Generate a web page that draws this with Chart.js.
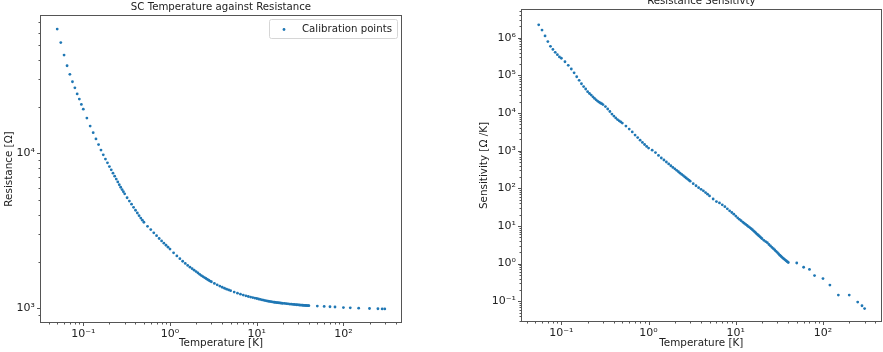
<!DOCTYPE html>
<html>
<head>
<meta charset="utf-8">
<script src="https://cdn.jsdelivr.net/npm/chart.js@4.4.1/dist/chart.umd.min.js"></script>
<style>
    html, body { margin: 0; padding: 0; background: #fff; overflow: hidden; }
    #wrap { position: relative; width: 883px; height: 352px; overflow: hidden; }
    #left { position: absolute; left: 0; top: 0; }
    #right { position: absolute; left: 441px; top: -6px; }
</style>
</head>
<body>
<div id="wrap">
    <canvas id="left" width="441" height="352"></canvas>
    <canvas id="right" width="442" height="358"></canvas>
</div>
<script>
// calibration table (K, ohm)
const tempK = [
    0.05, 0.055, 0.06, 0.065, 0.07, 0.075, 0.08, 0.085, 0.09, 0.095, 0.1,
    0.11, 0.12, 0.13, 0.14, 0.15, 0.16, 0.17, 0.18, 0.19, 0.2,
    0.21, 0.22, 0.23, 0.24, 0.25, 0.26, 0.27, 0.28, 0.29, 0.3,
    0.32, 0.34, 0.36, 0.38, 0.4, 0.42, 0.44, 0.46, 0.48, 0.5,
    0.55, 0.6, 0.65, 0.7, 0.75, 0.8, 0.85, 0.9, 0.95, 1.0,
    1.1, 1.2, 1.3, 1.4, 1.5, 1.6, 1.7, 1.8, 1.9, 2.0,
    2.1, 2.2, 2.3, 2.4, 2.5, 2.6, 2.7, 2.8, 2.9, 3.0,
    3.25, 3.5, 3.75, 4.0, 4.25, 4.5, 4.75, 5.0,
    5.5, 6.0, 6.5, 7.0, 7.5, 8.0,
    8.5, 9, 9.5, 10, 10.5, 11, 11.5, 12, 12.5, 13, 13.5, 14,
    14.5, 15, 15.5, 16, 16.5, 17, 17.5, 18, 18.5, 19, 19.5, 20,
    21, 22, 23, 24, 25, 26, 27, 28, 29, 30,
    31, 32, 33, 34, 35, 36, 37, 38, 39, 40,
    50, 60, 70, 80, 100, 120, 150, 200, 250, 280, 300
];

const resistance = [
    63500, 51900, 43100, 36800, 32400, 29000, 26500, 24200, 22400, 20700, 19300,
    16900, 15000, 13600, 12400, 11400, 10500, 9780, 9180, 8690, 8220,
    7830, 7450, 7120, 6820, 6540, 6270, 6040, 5840, 5660, 5480,
    5170, 4920, 4700, 4480, 4290, 4120, 3960, 3820, 3700, 3590,
    3380, 3220, 3070, 2940, 2820, 2720, 2630, 2550, 2480, 2410,
    2280, 2175, 2090, 2010, 1945, 1890, 1840, 1800, 1760, 1725,
    1690, 1655, 1625, 1600, 1578, 1555, 1535, 1515, 1497, 1482,
    1446, 1416, 1390, 1366, 1346, 1328, 1312, 1297,
    1272, 1250, 1232, 1216, 1202, 1190,
    1180, 1172, 1163, 1155, 1147, 1140, 1133, 1127, 1121, 1116, 1111, 1107,
    1103, 1099, 1096, 1093, 1090, 1088, 1086, 1084, 1082, 1080, 1078, 1076,
    1073, 1070, 1067, 1064, 1062, 1059, 1057, 1055, 1053, 1051,
    1049, 1048, 1046, 1045, 1043, 1042, 1041, 1040, 1039, 1038,
    1033, 1027, 1022, 1018, 1010, 1006, 1001, 996, 992, 990, 989
];

// |dR/dT| in ohm/K, one per temperature starting at tempK[1]
const sensitivity = [
    2.2e6, 1.6e6, 1.12e6, 7.9e5, 5.9e5, 4.9e5, 4.1e5, 3.55e5, 3.1e5, 2.85e5,
    2.3e5, 1.85e5, 1.48e5, 1.17e5, 9.2e4, 7.4e4, 6.0e4, 5.05e4, 4.35e4, 3.7e4,
    3.3e4, 3.0e4, 2.7e4, 2.45e4, 2.25e4, 2.08e4, 1.95e4, 1.85e4, 1.77e4, 1.68e4,
    1.48e4, 1.28e4, 1.1e4, 9400, 8300, 7400, 6700, 6200, 5800, 5400,
    4500, 3750, 3150, 2600, 2230, 1900, 1660, 1460, 1300, 1170,
    1030, 890, 750, 640, 565, 500, 445, 398, 360, 330,
    300, 276, 253, 234, 218, 201, 188, 176, 166, 155,
    133, 117, 104, 94, 86, 77, 70, 63,
    52, 44.5, 41, 36.5, 32.5, 28.5,
    25.2, 22.8, 20.6, 18.3, 16.5, 15.0, 13.8, 12.7, 11.8, 11.0, 10.3, 9.6,
    9.06, 8.5, 7.95, 7.45, 6.95, 6.5, 6.1, 5.75, 5.45, 5.15, 4.85, 4.6,
    4.15, 3.85, 3.6, 3.22, 2.95, 2.7, 2.5, 2.3, 2.12, 1.96,
    1.81, 1.68, 1.57, 1.47, 1.38, 1.31, 1.24, 1.18, 1.12, 1.07,
    1.04, 0.80, 0.70, 0.48, 0.40, 0.27, 0.146, 0.146, 0.095, 0.076, 0.064
];

const tempTicks = [0.1, 1, 10, 100];
const tempTickLabels = ['10\u207B\u00B9', '10\u2070', '10\u00B9', '10\u00B2'];
const resTicks = [1000, 10000];
const resTickLabels = ['10\u00B3', '10\u2074'];
const sensTicks = [0.1, 1, 10, 100, 1000, 1e4, 1e5, 1e6];
const sensTickLabels = ['10\u207B\u00B9', '10\u2070', '10\u00B9', '10\u00B2', '10\u00B3', '10\u2074', '10\u2075', '10\u2076'];

Chart.defaults.font.family = "'DejaVu Sans', sans-serif";
Chart.defaults.color = '#222';

var blue = '#1f77b4';
var spine = '#555';

function logTicks(min, max) {
    var out = [];
    for (var d = Math.floor(Math.log10(min)); d <= Math.ceil(Math.log10(max)); d++) {
        for (var m = 1; m <= 9; m++) {
            var v = m * Math.pow(10, d);
            if (v >= min && v <= max) out.push({ value: v, major: m == 1 });
        }
    }
    return out;
}

function labelFor(values, labels) {
    return function (v) {
        for (var i = 0; i < values.length; i++) {
            if (Math.abs(v / values[i] - 1) < 1e-9) return labels[i];
        }
        return '';
    };
}

function logAxis(min, max, values, labels, title, fit, titlePad) {
    return {
        type: 'logarithmic',
        min: min,
        max: max,
        afterBuildTicks: function (scale) { scale.ticks = logTicks(min, max); },
        afterFit: fit,
        ticks: {
            autoSkip: false, maxRotation: 0, minRotation: 0, padding: 1,
            font: { size: 11 }, color: '#222',
            callback: labelFor(values, labels)
        },
        grid: { display: true, drawOnChartArea: false, drawTicks: true, tickLength: 4, tickColor: 'rgba(0,0,0,0)' },
        border: { display: false },
        title: { display: true, text: title, color: '#222', font: { size: 10.4 }, padding: titlePad }
    };
}

// box round the plot and matplotlib style major/minor tick marks
const frame = {
    id: 'frame',
    afterDraw: function (chart) {
        var ctx = chart.ctx, a = chart.chartArea;
        var l = Math.round(a.left) + 0.5, r = Math.round(a.right) - 0.5;
        var t = Math.round(a.top) + 0.5, b = Math.round(a.bottom) - 0.5;
        ctx.save();
        ctx.strokeStyle = spine;
        ctx.lineWidth = 1;
        ctx.strokeRect(l, t, r - l, b - t);
        var xs = chart.scales.x, ys = chart.scales.y;
        ctx.beginPath();
        xs.ticks.forEach(function (tk) {
            var p = Math.round(xs.getPixelForValue(tk.value)) + 0.5;
            ctx.moveTo(p, b);
            ctx.lineTo(p, b + (tk.major ? 3.5 : 2));
        });
        ys.ticks.forEach(function (tk) {
            var p = Math.round(ys.getPixelForValue(tk.value)) + 0.5;
            ctx.moveTo(l, p);
            ctx.lineTo(l - (tk.major ? 3.5 : 2), p);
        });
        ctx.stroke();
        ctx.restore();
    }
};

const legendBox = {
    id: 'legendBox',
    afterDraw: function (chart) {
        var ctx = chart.ctx, a = chart.chartArea;
        var w = 128, h = 19;
        var x = Math.round(a.right) - 4.5 - w, y = Math.round(a.top) + 4.5;
        ctx.save();
        ctx.fillStyle = 'rgba(255,255,255,0.8)';
        ctx.strokeStyle = '#d6d6d6';
        ctx.lineWidth = 1;
        ctx.beginPath();
        ctx.roundRect(x, y, w, h, 2);
        ctx.fill();
        ctx.stroke();
        ctx.fillStyle = blue;
        ctx.beginPath();
        ctx.arc(x + 14.5, y + 10, 1.4, 0, Math.PI * 2);
        ctx.fill();
        ctx.fillStyle = '#222';
        ctx.font = "10.2px 'DejaVu Sans', sans-serif";
        ctx.textBaseline = 'middle';
        ctx.fillText(chart.data.datasets[0].label, x + 32.5, y + 10);
        ctx.restore();
    }
};

function dotSet(label, points) {
    return {
        label: label,
        data: points,
        backgroundColor: blue,
        borderWidth: 0,
        pointRadius: 1.4,
        pointHoverRadius: 1.4
    };
}

function baseOptions(titleText, padRight) {
    return {
        responsive: false,
        animation: false,
        devicePixelRatio: 1,
        events: [],
        layout: { padding: { left: 0, right: padRight, top: 0, bottom: 0 } },
        plugins: {
            legend: { display: false },
            tooltip: { enabled: false },
            title: {
                display: true, text: titleText, color: '#222', fullSize: false,
                font: { size: 10.2, weight: 'normal' },
                padding: { top: 1.2, bottom: 1.56 }
            }
        }
    };
}

var resPoints = tempK.map(function (t, i) { return { x: t, y: resistance[i] }; });
var sensPoints = sensitivity.map(function (s, i) { return { x: tempK[i + 1], y: s }; });

var leftOpts = baseOptions('SC Temperature against Resistance', 39);
leftOpts.scales = {
    x: logAxis(0.03167, 474, tempTicks, tempTickLabels, 'Temperature [K]',
        function (s) { s.height = 29; }, { top: 0, bottom: 2.3 }),
    y: logAxis(802.6, 78250, resTicks, resTickLabels, 'Resistance [\u03A9]',
        function (s) { s.width = 40; }, { top: 3, bottom: 0 })
};

new Chart(document.getElementById('left'), {
    type: 'scatter',
    data: { datasets: [dotSet('Calibration points', resPoints)] },
    options: leftOpts,
    plugins: [frame, legendBox]
});

var rightOpts = baseOptions('Resistance Sensitivty', 1);
rightOpts.scales = {
    x: logAxis(0.03445, 470, tempTicks, tempTickLabels, 'Temperature [K]',
        function (s) { s.height = 30; }, { top: 0, bottom: 2.3 }),
    y: logAxis(0.02814, 5.8e6, sensTicks, sensTickLabels, 'Sensitivity [\u03A9 /K]',
        function (s) { s.width = 80; }, { top: 36.8, bottom: 0 })
};

new Chart(document.getElementById('right'), {
    type: 'scatter',
    data: { datasets: [dotSet('Sensitivity', sensPoints)] },
    options: rightOpts,
    plugins: [frame]
});
</script>
</body>
</html>
